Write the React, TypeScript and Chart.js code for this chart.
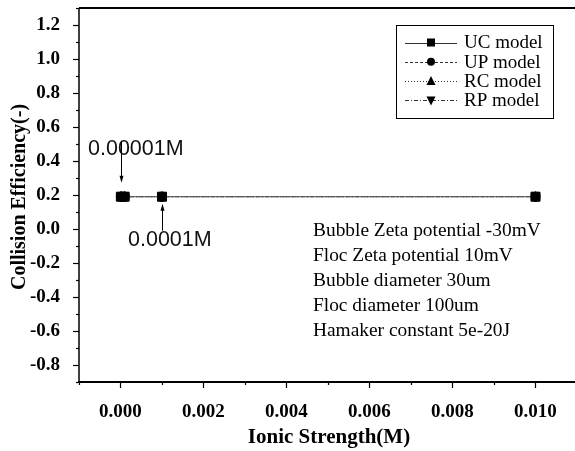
import React, { useEffect, useRef } from "react";
import { Chart, registerables } from "chart.js";

Chart.register(...registerables);

// Ionic strength (M) at which collision efficiency was computed
const ionicStrength = [0.00001, 0.0001, 0.001, 0.01];

// Collision efficiency (-) for each model
const ucModel = [0.19, 0.19, 0.19, 0.19];
const upModel = [0.19, 0.19, 0.19, 0.19];
const rcModel = [0.19, 0.19, 0.19, 0.19];
const rpModel = [0.19, 0.19, 0.19, 0.19];

const seriesNames = ["UC model", "UP model", "RC model", "RP model"];

// Axis ticks
const xTickValues = [0, 0.002, 0.004, 0.006, 0.008, 0.01];
const yTickValues = [-0.8, -0.6, -0.4, -0.2, 0, 0.2, 0.4, 0.6, 0.8, 1.0, 1.2];

// Simulation conditions
const conditionLines = [
  "Bubble Zeta potential -30mV",
  "Floc Zeta potential 10mV",
  "Bubble diameter 30um",
  "Floc diameter 100um",
  "Hamaker constant 5e-20J",
];

const pointLabels = ["0.00001M", "0.0001M"];

const SERIF = "'Liberation Serif', 'Times New Roman', serif";
const SANS = "'Liberation Sans', Arial, sans-serif";

const dashes: number[][] = [[], [3, 2], [1, 2], [4, 2, 1, 2]];
const shapes = ["rect", "circle", "triangle", "triangleDown"];

function drawMarker(ctx: CanvasRenderingContext2D, shape: string, x: number, y: number, s: number) {
  ctx.beginPath();
  if (shape === "rect") {
    ctx.rect(x - s / 2, y - s / 2, s, s);
  } else if (shape === "circle") {
    ctx.arc(x, y, s / 2, 0, Math.PI * 2);
  } else if (shape === "triangle") {
    ctx.moveTo(x, y - s / 2 - 1);
    ctx.lineTo(x + s / 2 + 0.5, y + s / 2);
    ctx.lineTo(x - s / 2 - 0.5, y + s / 2);
    ctx.closePath();
  } else {
    ctx.moveTo(x, y + s / 2 + 1);
    ctx.lineTo(x + s / 2 + 0.5, y - s / 2);
    ctx.lineTo(x - s / 2 - 0.5, y - s / 2);
    ctx.closePath();
  }
  ctx.fill();
}

function arrow(ctx: CanvasRenderingContext2D, x: number, y0: number, y1: number) {
  const dir = y1 > y0 ? 1 : -1;
  ctx.beginPath();
  ctx.moveTo(x, y0);
  ctx.lineTo(x, y1 - dir * 5);
  ctx.lineWidth = 1;
  ctx.strokeStyle = "#000";
  ctx.stroke();
  ctx.beginPath();
  ctx.moveTo(x, y1);
  ctx.lineTo(x - 2, y1 - dir * 7);
  ctx.lineTo(x + 2, y1 - dir * 7);
  ctx.closePath();
  ctx.fillStyle = "#000";
  ctx.fill();
}

const decorations = {
  id: "decorations",
  afterDraw(chart: any) {
    const ctx: CanvasRenderingContext2D = chart.ctx;
    const xs = chart.scales.x;
    const ys = chart.scales.y;
    const a = chart.chartArea;
    ctx.save();
    ctx.strokeStyle = "#000";
    ctx.fillStyle = "#000";

    // frame
    ctx.lineWidth = 2;
    ctx.beginPath();
    ctx.moveTo(a.left, a.top);
    ctx.lineTo(a.right, a.top);
    ctx.stroke();
    ctx.beginPath();
    ctx.moveTo(a.left - 1, a.bottom);
    ctx.lineTo(a.right, a.bottom);
    ctx.stroke();
    ctx.lineWidth = 1.5;
    ctx.beginPath();
    ctx.moveTo(a.left, a.top);
    ctx.lineTo(a.left, a.bottom);
    ctx.stroke();

    // tick marks, major and minor, pointing outward
    ctx.lineWidth = 1.2;
    for (let i = -1; i <= 10; i++) {
      const px = Math.round(xs.getPixelForValue(i / 1000)) + 0.5;
      const len = i % 2 === 0 ? 6 : 3;
      ctx.beginPath();
      ctx.moveTo(px, a.bottom);
      ctx.lineTo(px, a.bottom + len);
      ctx.stroke();
    }
    for (let i = -9; i <= 13; i++) {
      const py = Math.round(ys.getPixelForValue(i / 10)) + 0.5;
      const len = i % 2 === 0 ? 6 : 3;
      ctx.beginPath();
      ctx.moveTo(a.left - len, py);
      ctx.lineTo(a.left, py);
      ctx.stroke();
    }

    // axis titles
    ctx.fillStyle = "#000";
    ctx.font = `bold 21px ${SERIF}`;
    ctx.textAlign = "center";
    ctx.textBaseline = "middle";
    ctx.fillText("Ionic Strength(M)", 329, 438);
    ctx.save();
    ctx.translate(20, 197);
    ctx.rotate(-Math.PI / 2);
    ctx.font = `bold 20px ${SERIF}`;
    ctx.fillText("Collision Efficiency(-)", 0, 0);
    ctx.restore();

    // legend
    const lx = 396.5, ly = 25.5, lw = 157, lh = 93;
    ctx.lineWidth = 1;
    ctx.strokeStyle = "#000";
    ctx.strokeRect(lx, ly, lw, lh);
    ctx.font = `19px ${SERIF}`;
    ctx.textAlign = "left";
    ctx.textBaseline = "middle";
    seriesNames.forEach((name, i) => {
      const y = ly + 17 + i * 19.3;
      ctx.save();
      ctx.setLineDash(dashes[i]);
      ctx.strokeStyle = "#333";
      ctx.beginPath();
      ctx.moveTo(405, Math.round(y) + 0.5);
      ctx.lineTo(457, Math.round(y) + 0.5);
      ctx.stroke();
      ctx.restore();
      ctx.fillStyle = "#000";
      drawMarker(ctx, shapes[i], 431, y, 8);
      ctx.fillText(name, 464, y + 1);
    });

    // labelled points with arrows
    const p0x = Math.round(xs.getPixelForValue(ionicStrength[0])) + 0.5;
    const p0y = ys.getPixelForValue(ucModel[0]);
    const p2x = Math.round(xs.getPixelForValue(ionicStrength[2])) + 0.5;
    const p2y = ys.getPixelForValue(ucModel[2]);
    ctx.font = `21.5px ${SANS}`;
    ctx.fillStyle = "#111";
    ctx.fillText(pointLabels[0], 88, p0y - 48);
    ctx.fillText(pointLabels[1], 128, p2y + 43);
    arrow(ctx, p0x, p0y - 56, p0y - 14);
    arrow(ctx, p2x, p2y + 34, p2y + 7);

    // simulation conditions
    ctx.font = `19.4px ${SERIF}`;
    ctx.fillStyle = "#000";
    conditionLines.forEach((t, i) => {
      ctx.fillText(t, 313, 231 + i * 25);
    });

    ctx.restore();
  },
};

export default function App() {
  const ref = useRef<HTMLCanvasElement | null>(null);

  useEffect(() => {
    if (!ref.current) return;
    const models = [ucModel, upModel, rcModel, rpModel];
    const styles = ["rect", "circle", "triangle", "triangle"];
    const rotations = [0, 0, 0, 180];
    const radii = [6.4, 4.6, 5, 5];
    const chart = new Chart(ref.current, {
      type: "line",
      data: {
        datasets: models.map((vals, i) => ({
          label: seriesNames[i],
          data: ionicStrength.map((x, j) => ({ x, y: vals[j] })),
          borderColor: "#555",
          borderWidth: 1,
          borderDash: dashes[i],
          backgroundColor: "#000",
          pointBackgroundColor: "#000",
          pointBorderColor: "#000",
          pointBorderWidth: 1,
          pointStyle: styles[i] as any,
          pointRotation: rotations[i],
          pointRadius: radii[i],
          tension: 0,
          fill: false,
        })),
      },
      options: {
        responsive: false,
        animation: false,
        events: [],
        layout: { autoPadding: false, padding: { top: 8, left: 0, right: 0, bottom: 0 } },
        plugins: {
          legend: { display: false },
          tooltip: { enabled: false },
        },
        scales: {
          x: {
            type: "linear",
            min: -0.001,
            max: 0.010952,
            grid: { display: false },
            border: { display: false },
            afterFit: (s: any) => {
              s.height = 69;
              s.paddingLeft = 0;
              s.paddingRight = 0;
            },
            afterBuildTicks: (s: any) => {
              s.ticks = xTickValues.map((v) => ({ value: v }));
            },
            ticks: {
              autoSkip: false,
              maxRotation: 0,
              padding: 11,
              color: "#000",
              font: { family: SERIF, size: 19, weight: "bold" },
              callback: (v: any) => Number(v).toFixed(3),
            },
          },
          y: {
            type: "linear",
            min: -0.9,
            max: 1.3,
            grid: { display: false },
            border: { display: false },
            afterFit: (s: any) => {
              s.width = 79;
              s.paddingTop = 0;
              s.paddingBottom = 0;
            },
            afterBuildTicks: (s: any) => {
              s.ticks = yTickValues.map((v) => ({ value: v }));
            },
            ticks: {
              autoSkip: false,
              padding: 11,
              color: "#000",
              font: { family: SERIF, size: 19, weight: "bold" },
              callback: (v: any) => Number(v).toFixed(1),
            },
          },
        },
      },
      plugins: [decorations],
    });
    return () => chart.destroy();
  }, []);

  return (
    <div style={{ position: "absolute", left: 0, top: 0, width: 575, height: 451, background: "#fff" }}>
      <canvas ref={ref} width={575} height={451} style={{ display: "block" }} />
    </div>
  );
}
